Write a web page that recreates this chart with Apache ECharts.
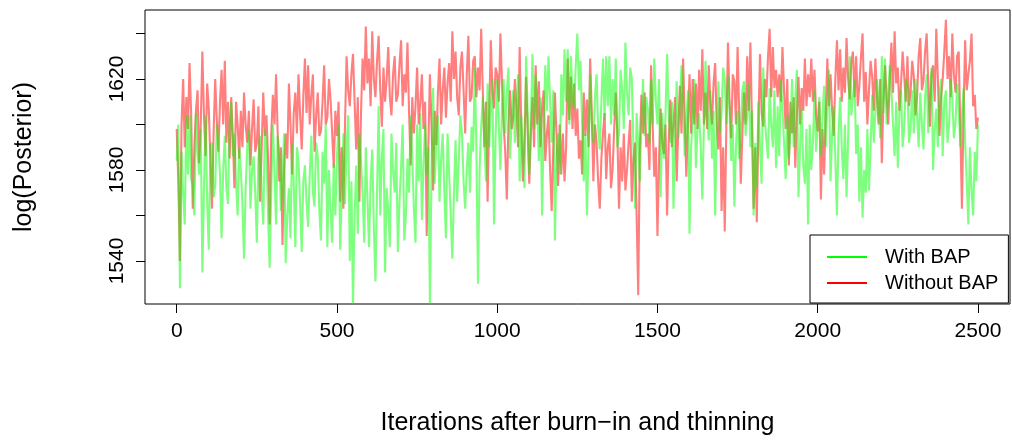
<!DOCTYPE html>
<html>
<head>
<meta charset="utf-8">
<script src="https://cdn.jsdelivr.net/npm/echarts@6/dist/echarts.min.js"></script>
<style>
html,body{margin:0;padding:0;background:#fff;}
#chart{width:1012px;height:441px;}
</style>
</head>
<body>
<div id="chart"></div>
<script>
// Series names
const seriesNames = ["With BAP", "Without BAP"];
// Sampling step of the trace (iterations after burn-in and thinning)
const iterStep = 5;
// log(Posterior) trace WITH BAP (green), read every 5 iterations
const withBAP = [
1584,1600,1528,1588,1570,1556,1604,1578,1604,1576,1573,1560,1605,1588,1578,1598,1535,1572,1604,1566,1545,1590,1592,1568,1573,1600,1592,1578,1550,1580,1595,1572,1565,1600,1610,1586,1596,1575,1560,1590,
1580,1565,1541,1572,1590,1598,1563,1580,1586,1570,1548,1585,1595,1570,1556,1598,1590,1560,1537,1572,1600,1580,1556,1595,1588,1562,1576,1596,1539,1560,1572,1550,1592,1575,1546,1590,1584,1565,1544,1575,1582,1566,
1555,1578,1595,1570,1564,1592,1586,1562,1549,1588,1574,1600,1546,1580,1562,1548,1583,1560,1586,1600,1545,1570,1596,1565,1590,1604,1540,1575,1521,1560,1582,1552,1596,1584,1569,1548,1590,1568,1546,1575,1589,1555,
1531,1570,1608,1560,1585,1598,1535,1572,1562,1546,1596,1580,1570,1592,1544,1566,1581,1600,1549,1560,1585,1570,1604,1585,1563,1548,1600,1575,1605,1558,1582,1600,1578,1590,1521,1580,1616,1574,1592,1604,1566,1585,1596,1570,
1550,1596,1579,1560,1541,1570,1593,1566,1584,1604,1596,1575,1563,1580,1592,1570,1599,1588,1625,1590,1530,1580,1599,1612,1592,1575,1618,1590,1607,1620,1556,1595,1620,1600,1580,1608,1620,1596,1614,1625,1585,1602,
1615,1592,1607,1622,1575,1604,1590,1572,1630,1605,1578,1600,1631,1598,1622,1606,1584,1612,1560,1600,1626,1606,1630,1610,1592,1615,1549,1585,1596,1578,1622,1604,1633,1610,1633,1600,1630,1612,1607,1626,1640,1615,
1628,1600,1575,1596,1560,1590,1622,1600,1592,1612,1622,1598,1589,1610,1629,1602,1630,1608,1630,1600,1620,1604,1629,1590,1596,1624,1615,1598,1636,1614,1604,1625,1620,1590,1563,1605,1592,1575,1602,1620,1595,1612,
1607,1592,1620,1600,1629,1610,1600,1620,1568,1605,1585,1604,1631,1606,1592,1610,1563,1596,1619,1594,1610,1626,1612,1586,1600,1615,1552,1590,1603,1620,1581,1598,1605,1590,1567,1600,1628,1604,1593,1615,1585,1606,1560,1598,
1619,1596,1605,1625,1620,1600,1621,1606,1584,1600,1564,1590,1606,1585,1598,1615,1619,1595,1604,1618,1590,1606,1560,1592,1572,1610,1590,1574,1625,1602,1593,1585,1616,1600,1590,1615,1581,1608,1586,1620,1607,1592,
1576,1604,1585,1598,1620,1590,1611,1624,1568,1590,1607,1582,1574,1598,1556,1600,1580,1592,1615,1588,1600,1612,1586,1604,1617,1590,1608,1624,1575,1596,1608,1585,1560,1596,1612,1590,1576,1600,1568,1594,1630,1604,
1604,1620,1587,1600,1566,1590,1559,1580,1570,1598,1571,1590,1613,1592,1605,1620,1608,1594,1630,1605,1629,1600,1613,1626,1615,1600,1586,1610,1581,1606,1615,1590,1599,1620,1617,1592,1599,1615,1596,1620,1604,1590,
1614,1600,1589,1612,1622,1596,1612,1625,1580,1598,1607,1590,1614,1620,1586,1610,1615,1592,1600,1620,1612,1594,1601,1618,1607,1590,1604,1616,1592,1575,1556,1590,1571,1560,1588,1575,1600
];
// log(Posterior) trace WITHOUT BAP (red), read every 5 iterations
const withoutBAP = [
1598,1575,1540,1600,1620,1590,1612,1598,1627,1605,1563,1590,1606,1615,1583,1600,1632,1604,1586,1618,1607,1585,1563,1596,1620,1602,1588,1610,1624,1600,1628,1592,1610,1585,1612,1595,1572,1610,1600,1585,
1606,1590,1614,1600,1592,1606,1582,1598,1611,1588,1592,1608,1566,1590,1614,1595,1604,1585,1556,1596,1613,1600,1622,1596,1575,1590,1547,1580,1596,1585,1618,1600,1578,1605,1614,1596,1622,1604,1589,1612,1629,1605,
1626,1600,1613,1622,1588,1604,1614,1595,1597,1610,1626,1600,1603,1620,1611,1596,1581,1606,1595,1610,1566,1590,1563,1600,1630,1615,1608,1622,1631,1610,1589,1612,1566,1605,1629,1615,1643,1618,1629,1608,1641,1620,
1612,1628,1639,1615,1599,1625,1610,1620,1634,1612,1604,1622,1630,1610,1613,1626,1637,1608,1622,1614,1636,1605,1582,1612,1596,1608,1625,1600,1610,1622,1598,1610,1551,1590,1622,1600,1571,1606,1591,1614,1629,1600,1615,1625,
1603,1618,1627,1610,1641,1620,1632,1612,1604,1625,1632,1615,1596,1622,1639,1610,1612,1628,1630,1612,1625,1615,1642,1615,1590,1610,1566,1605,1637,1615,1607,1625,1622,1610,1640,1618,1600,1588,1567,1600,1615,1598,
1603,1620,1607,1590,1634,1600,1575,1592,1621,1598,1574,1596,1612,1590,1626,1600,1619,1590,1607,1615,1584,1596,1604,1580,1562,1590,1614,1596,1573,1600,1578,1596,1575,1590,1629,1602,1621,1598,1618,1595,1607,1585,
1593,1578,1614,1595,1611,1590,1629,1605,1575,1600,1592,1575,1563,1585,1596,1605,1576,1590,1596,1572,1580,1598,1614,1595,1563,1590,1575,1596,1571,1580,1592,1602,1566,1585,1592,1560,1525,1590,1613,1596,1614,1590,
1596,1580,1626,1600,1577,1590,1551,1585,1607,1592,1587,1600,1560,1592,1611,1590,1600,1612,1575,1598,1617,1596,1629,1604,1577,1600,1622,1596,1620,1600,1618,1598,1624,1606,1633,1600,1614,1598,1626,1610,1600,1618,1627,1600,
1589,1612,1562,1590,1553,1600,1636,1610,1594,1622,1619,1600,1634,1605,1574,1596,1614,1600,1630,1606,1636,1600,1563,1590,1557,1600,1631,1605,1599,1620,1612,1630,1642,1612,1634,1616,1624,1612,1622,1610,1634,1615,
1598,1620,1582,1610,1596,1612,1581,1604,1621,1600,1616,1606,1629,1608,1622,1612,1629,1610,1624,1604,1597,1610,1567,1598,1578,1604,1629,1608,1622,1606,1595,1620,1637,1615,1633,1610,1625,1614,1638,1620,1611,1628,
1632,1612,1630,1608,1617,1630,1640,1610,1623,1600,1615,1628,1621,1606,1629,1612,1600,1620,1583,1610,1626,1612,1600,1620,1636,1614,1641,1618,1625,1606,1618,1632,1621,1610,1630,1608,1615,1628,1621,1604,1612,1630,
1638,1615,1619,1632,1640,1618,1599,1622,1626,1610,1642,1620,1595,1612,1620,1632,1646,1620,1630,1612,1640,1622,1614,1630,1632,1598,1563,1605,1637,1615,1622,1628,1640,1608,1613,1598,1603
];
// Axis tick values and labels
const xTicks = [0, 500, 1000, 1500, 2000, 2500];
const yTicks = [1540, 1560, 1580, 1600, 1620, 1640];
const yLabels = [1540, 1580, 1620];
const xTitle = "Iterations after burn\u2212in and thinning";
const yTitle = "log(Posterior)";

const toPairs = arr => arr.map((v, i) => [i * iterStep, v]);

const FONT = "'Liberation Sans', Arial, sans-serif";
const chart = echarts.init(document.getElementById('chart'), null, {renderer: 'canvas'});
chart.setOption({
  animation: false,
  backgroundColor: '#ffffff',
  textStyle: {fontFamily: FONT, color: '#000'},
  grid: {left: 145, top: 10, width: 865, height: 294, show: true, borderColor: '#000', borderWidth: 1, backgroundColor: 'transparent'},
  xAxis: {
    type: 'value', min: -99, max: 2600,
    axisLine: {show: false, onZero: false},
    splitLine: {show: false},
    axisTick: {show: true, length: 9, customValues: xTicks, lineStyle: {color: '#000', width: 1}},
    axisLabel: {customValues: xTicks, margin: 17, fontSize: 21, color: '#000', fontFamily: FONT,
                formatter: v => String(v)},
    name: xTitle, nameLocation: 'middle', nameGap: 107,
    nameTextStyle: {fontSize: 25, color: '#000', fontFamily: FONT}
  },
  yAxis: {
    type: 'value', min: 1521.1, max: 1650.3,
    axisLine: {show: false, onZero: false},
    splitLine: {show: false},
    axisTick: {show: true, length: 9, customValues: yTicks, lineStyle: {color: '#000', width: 1}},
    axisLabel: {customValues: yLabels, rotate: 90, margin: 17, fontSize: 21, color: '#000', fontFamily: FONT,
                formatter: v => String(v)},
    name: yTitle, nameLocation: 'middle', nameGap: 108, nameRotate: 90,
    nameTextStyle: {fontSize: 25, color: '#000', fontFamily: FONT}
  },
  legend: {
    orient: 'vertical', left: 810, top: 235,
    backgroundColor: '#fff', borderColor: '#000', borderWidth: 1,
    padding: [12, 10, 10, 17],
    itemWidth: 40, itemHeight: 2, itemGap: 6,
    textStyle: {fontSize: 20, lineHeight: 20, color: '#000', fontFamily: FONT, padding: [0, 0, 0, 13]},
    data: [
      {name: seriesNames[0], icon: 'rect', itemStyle: {color: '#00ff00', opacity: 1}},
      {name: seriesNames[1], icon: 'rect', itemStyle: {color: '#ff0000', opacity: 1}}
    ]
  },
  series: [
    {
      name: seriesNames[1], type: 'line', data: toPairs(withoutBAP),
      showSymbol: false, symbol: 'none', clip: true,
      lineStyle: {color: 'rgba(255,0,0,0.5)', width: 2.1},
      itemStyle: {color: 'rgba(255,0,0,0.5)'}
    },
    {
      name: seriesNames[0], type: 'line', data: toPairs(withBAP),
      showSymbol: false, symbol: 'none', clip: true,
      lineStyle: {color: 'rgba(0,255,0,0.5)', width: 2.1},
      itemStyle: {color: 'rgba(0,255,0,0.5)'}
    }
  ]
});
</script>
</body>
</html>
